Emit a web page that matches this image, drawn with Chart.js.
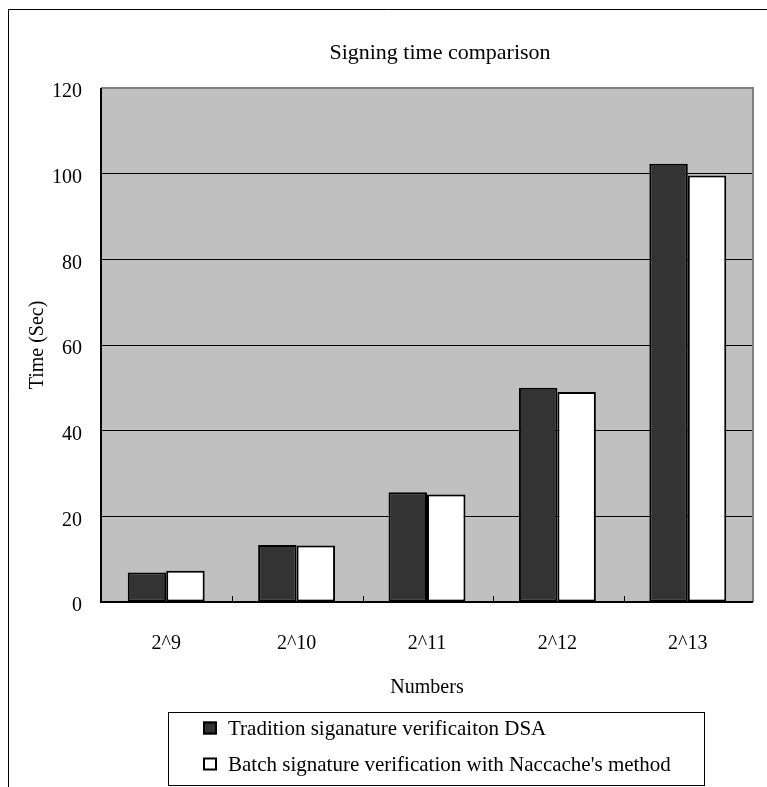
<!DOCTYPE html>
<html>
<head>
<meta charset="utf-8">
<script src="https://cdn.jsdelivr.net/npm/chart.js@4/dist/chart.umd.min.js"></script>
<style>
  html, body { margin: 0; padding: 0; background: #ffffff; }
  #wrap { width: 767px; height: 787px; position: relative; }
</style>
</head>
<body>
<div id="wrap"><canvas id="c" width="767" height="787"></canvas></div>
<script>
// Signing time (seconds) per batch size
const categories = ['2^9', '2^10', '2^11', '2^12', '2^13'];
const traditionDSA = [6.9, 13.3, 25.6, 50.0, 102.3];
const batchNaccache = [7.3, 13.2, 25.1, 49.0, 99.6];
const yTicks = [0, 20, 40, 60, 80, 100, 120];

const seriesNames = ['Tradition siganature verificaiton DSA', "Batch signature verification with Naccache's method"];
const chartTitle = 'Signing time comparison';
const FONT = '"Liberation Serif", "DejaVu Serif", serif';

// Outer frame, grey plot background and plot border
const framePlugin = {
  id: 'frame',
  beforeDraw(chart) {
    const ctx = chart.ctx;
    const a = chart.chartArea;
    ctx.save();
    ctx.fillStyle = '#ffffff';
    ctx.fillRect(0, 0, chart.width, chart.height);
    ctx.strokeStyle = '#000000';
    ctx.lineWidth = 1;
    ctx.beginPath();
    ctx.moveTo(8.5, chart.height + 2);
    ctx.lineTo(8.5, 9.5);
    ctx.lineTo(chart.width + 2, 9.5);
    ctx.stroke();
    ctx.fillStyle = '#c0c0c0';
    ctx.fillRect(a.left, a.top, a.right - a.left, a.bottom - a.top);
    ctx.restore();
  },
  afterDatasetsDraw(chart) {
    const ctx = chart.ctx;
    const a = chart.chartArea;
    const x = chart.scales.x;
    ctx.save();
    // top and right edges of the plot are grey
    ctx.strokeStyle = '#808080';
    ctx.lineWidth = 2;
    ctx.beginPath();
    ctx.moveTo(a.left, a.top);
    ctx.lineTo(a.right, a.top);
    ctx.lineTo(a.right, a.bottom);
    ctx.stroke();
    // axis lines
    ctx.strokeStyle = '#000000';
    ctx.lineWidth = 2;
    ctx.beginPath();
    ctx.moveTo(a.left, a.top);
    ctx.lineTo(a.left, a.bottom);
    ctx.lineTo(a.right, a.bottom);
    ctx.stroke();
    // small inward ticks between categories
    ctx.lineWidth = 1;
    ctx.beginPath();
    for (let i = 1; i < categories.length; i++) {
      const px = Math.round((x.getPixelForTick(i - 1) + x.getPixelForTick(i)) / 2) + 1.5;
      ctx.moveTo(px, a.bottom);
      ctx.lineTo(px, a.bottom - 6);
    }
    ctx.stroke();
    ctx.restore();
  },
  afterDraw(chart) {
    const ctx = chart.ctx;
    ctx.save();
    // chart title
    ctx.fillStyle = '#000000';
    ctx.font = '22px ' + FONT;
    ctx.textAlign = 'center';
    ctx.textBaseline = 'middle';
    ctx.fillText(chartTitle, 440, 53);

    // boxed legend below the x axis title
    ctx.strokeStyle = '#000000';
    ctx.lineWidth = 1;
    ctx.strokeRect(168.5, 712.5, 536, 73);
    ctx.font = '21px ' + FONT;
    ctx.textAlign = 'left';
    chart.data.datasets.forEach((ds, i) => {
      const cy = 728 + i * 36;
      ctx.fillStyle = ds.backgroundColor;
      ctx.fillRect(203, cy - 6.5, 14, 13);
      ctx.lineWidth = 2;
      ctx.strokeStyle = '#000000';
      ctx.strokeRect(204, cy - 5.5, 12, 11);
      ctx.fillStyle = '#000000';
      ctx.fillText(ds.label, 228, cy + 1);
    });
    ctx.restore();
  }
};

new Chart(document.getElementById('c'), {
  type: 'bar',
  data: {
    labels: categories,
    datasets: [
      {
        label: seriesNames[0],
        data: traditionDSA,
        backgroundColor: '#333333',
        borderColor: '#000000',
        borderWidth: 2,
        borderSkipped: false
      },
      {
        label: seriesNames[1],
        data: batchNaccache,
        backgroundColor: '#ffffff',
        borderColor: '#000000',
        borderWidth: 2,
        borderSkipped: false
      }
    ]
  },
  options: {
    responsive: false,
    animation: false,
    devicePixelRatio: 1,
    layout: { padding: { top: 88, right: 14, bottom: 87, left: 0 } },
    datasets: { bar: { categoryPercentage: 0.59, barPercentage: 1.0 } },
    plugins: {
      legend: { display: false },
      title: { display: false },
      tooltip: { enabled: false }
    },
    scales: {
      x: {
        afterFit(scale) { scale.height = 98; },
        grid: { display: false, drawTicks: false },
        border: { display: false },
        ticks: {
          color: '#000000',
          font: { family: FONT, size: 20 },
          padding: 30,
          maxRotation: 0
        },
        title: {
          display: true,
          text: 'Numbers',
          color: '#000000',
          font: { family: FONT, size: 20 },
          padding: { top: 0, bottom: 0 }
        }
      },
      y: {
        min: 0,
        max: 120,
        afterFit(scale) { scale.width = 101; },
        afterBuildTicks(scale) { scale.ticks = yTicks.map(v => ({ value: v })); },
        grid: { color: '#000000', lineWidth: 1, drawTicks: false },
        border: { display: false },
        ticks: {
          color: '#000000',
          font: { family: FONT, size: 20 },
          padding: 19,
          labelOffset: 4
        },
        title: {
          display: true,
          text: 'Time (Sec)',
          color: '#000000',
          font: { family: FONT, size: 20 },
          padding: { top: 26, bottom: 0 }
        }
      }
    }
  },
  plugins: [framePlugin]
});
</script>
</body>
</html>
